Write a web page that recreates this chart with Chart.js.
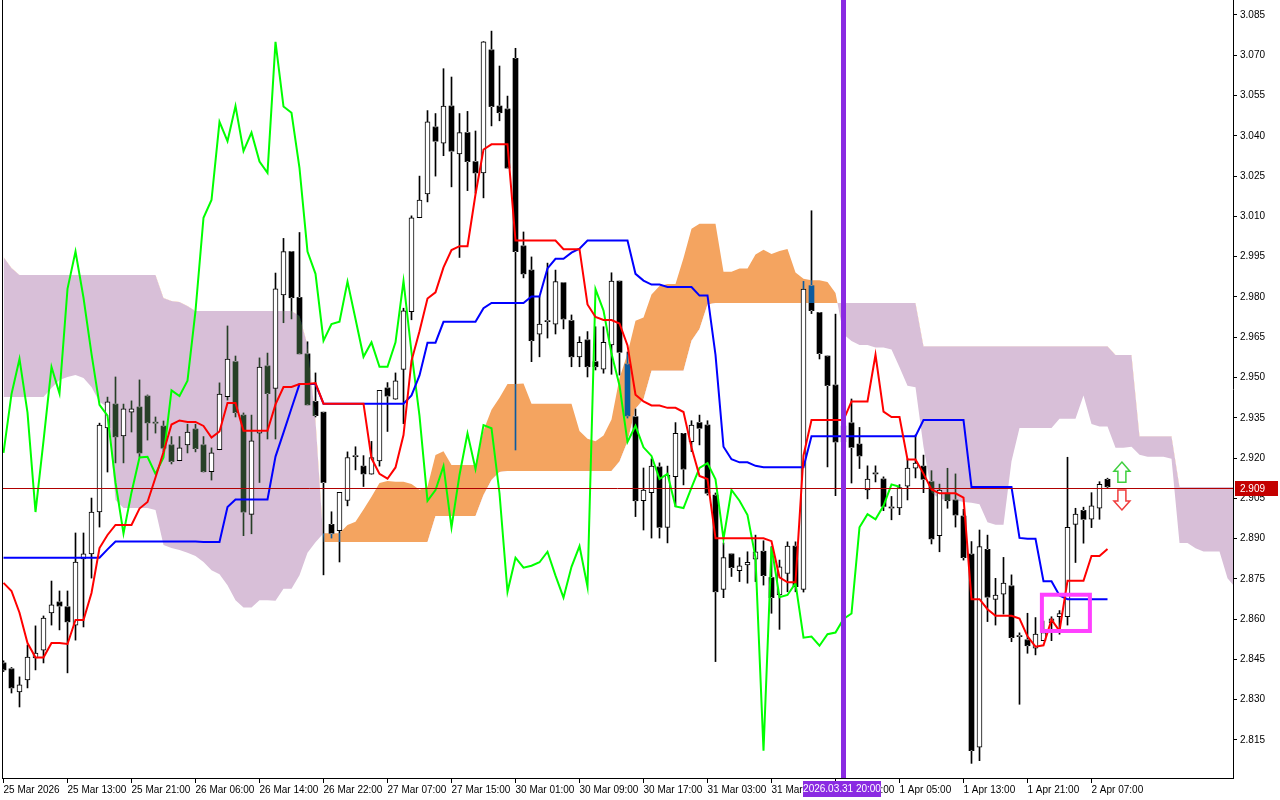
<!DOCTYPE html>
<html>
<head>
<meta charset="utf-8">
<script src="https://cdn.jsdelivr.net/npm/chart.js@4.4.1/dist/chart.umd.min.js"></script>
<style>
  html, body { margin: 0; padding: 0; background: #fff; }
  #wrap { width: 1280px; height: 800px; }
</style>
</head>
<body>
<div id="wrap"><canvas id="myChart"></canvas></div>
<script>
// hourly candles, oldest first
const opens = [2.8437,2.8415,2.8329,2.8374,2.8456,2.8485,2.8623,2.8664,2.8646,2.8578,
  2.8824,2.8843,2.8999,2.9312,2.9401,2.9282,2.9371,2.9390,2.9431,2.9330,
  2.9319,2.9249,2.9190,2.9249,2.9308,2.9249,2.9149,2.9231,2.9429,2.9559,
  2.9360,2.8990,2.9293,2.9543,2.9459,2.9808,2.9969,2.9798,2.9588,2.9411,
  2.9371,2.8953,2.8930,2.9042,2.9205,2.9170,2.9140,2.9189,2.9461,2.9419,
  2.9530,2.9745,3.0095,3.0184,3.0433,3.0373,3.0511,3.0333,3.0412,3.0304,
  3.0262,3.0720,3.0511,3.0500,3.0689,2.9990,2.9900,2.9661,2.9708,2.9699,
  2.9853,2.9712,2.9577,2.9640,2.9559,2.9531,2.9621,2.9859,2.9550,2.9354,
  2.9041,2.9071,2.9167,2.8942,2.9131,2.9292,2.9261,2.9332,2.9323,2.9062,
  2.8711,2.8843,2.8781,2.8802,2.8823,2.8853,2.8755,2.8690,2.8770,2.8872,
  2.8711,2.9842,2.9742,2.9580,2.9472,2.9260,2.9331,2.9252,2.9081,2.9141,
  2.9122,2.9014,2.9014,2.9095,2.9162,2.9170,2.9112,2.8911,2.9069,2.9044,
  2.8984,2.8842,2.8123,2.8860,2.8674,2.8693,2.8724,2.8535,2.8523,2.8492,
  2.8520,2.8587,2.8609,2.8609,2.8953,2.9005,2.8972,2.9013,2.9121];
const highs = [2.8445,2.8420,2.8385,2.8504,2.8575,2.8612,2.8742,2.8705,2.8705,2.8921,
  2.8921,2.9051,2.9330,2.9427,2.9502,2.9401,2.9413,2.9491,2.9435,2.9353,
  2.9338,2.9280,2.9280,2.9326,2.9326,2.9280,2.9238,2.9480,2.9692,2.9580,
  2.9368,2.9360,2.9573,2.9591,2.9889,3.0018,2.9969,3.0040,2.9633,2.9517,
  2.9371,2.9000,2.9072,2.9223,2.9242,2.9209,2.9262,2.9452,2.9481,2.9517,
  2.9758,3.0102,3.0250,3.0494,3.0483,3.0650,3.0619,3.0483,3.0491,3.0418,
  3.0751,3.0790,3.0660,3.0548,3.0726,3.0042,2.9949,2.9801,2.9926,2.9900,
  2.9853,2.9733,2.9652,2.9671,2.9689,2.9689,2.9890,2.9859,2.9595,2.9383,
  2.9163,2.9197,2.9182,2.9170,2.9332,2.9292,2.9339,2.9360,2.9339,2.9070,
  2.8884,2.8843,2.8829,2.8851,2.8913,2.8892,2.8870,2.8820,2.8888,2.8888,
  2.9858,3.0121,2.9742,2.9580,2.9736,2.9400,2.9420,2.9314,2.9171,2.9171,
  2.9130,2.9057,2.9101,2.9197,2.9286,2.9211,2.9153,2.9103,2.9162,2.9141,
  2.9009,2.8889,2.8932,2.8913,2.8752,2.8830,2.8765,2.8549,2.8622,2.8606,
  2.8593,2.8609,2.8632,2.9203,2.9013,2.9017,2.9071,2.9112,2.9125];
const lows = [2.8405,2.8325,2.8273,2.8344,2.8411,2.8437,2.8578,2.8560,2.8400,2.8522,
  2.8571,2.8753,2.8943,2.9148,2.9182,2.9182,2.9297,2.9204,2.9267,2.9293,
  2.9223,2.9178,2.9190,2.9219,2.9223,2.9148,2.9118,2.9231,2.9416,2.9353,
  2.8911,2.8918,2.9109,2.9271,2.9271,2.9704,2.9718,2.9588,2.9398,2.9353,
  2.8765,2.8902,2.8813,2.9022,2.9156,2.9094,2.9140,2.9170,2.9299,2.9419,
  2.9328,2.9715,3.0095,3.0154,3.0250,3.0326,3.0210,2.9947,3.0196,3.0187,
  3.0169,3.0437,3.0456,3.0280,2.9230,2.9871,2.9559,2.9577,2.9647,2.9662,
  2.9681,2.9540,2.9540,2.9502,2.9528,2.9516,2.9512,2.9509,2.9349,2.8982,
  2.8932,2.8902,2.8902,2.8884,2.9019,2.9100,2.9224,2.9249,2.9062,2.8442,
  2.8680,2.8759,2.8740,2.8734,2.8740,2.8727,2.8622,2.8562,2.8702,2.8702,
  2.8701,2.9738,2.9569,2.9167,2.9060,2.9180,2.9107,2.9161,2.9048,2.9111,
  2.9004,2.8970,2.8989,2.9044,2.9126,2.9071,2.8880,2.8851,2.9013,2.8943,
  2.8820,2.8063,2.8073,2.8591,2.8578,2.8619,2.8516,2.8283,2.8473,2.8467,
  2.8520,2.8520,2.8544,2.8578,2.8811,2.8883,2.8941,2.8972,2.9090];
const closes = [2.8411,2.8344,2.8355,2.8459,2.8474,2.8604,2.8653,2.8649,2.8590,2.8813,
  2.8843,2.8999,2.9323,2.9409,2.9279,2.9383,2.9383,2.9219,2.9331,2.9330,
  2.9237,2.9187,2.9238,2.9297,2.9235,2.9149,2.9219,2.9438,2.9569,2.9369,
  2.8999,2.9264,2.9539,2.9440,2.9830,2.9969,2.9797,2.9588,2.9398,2.9358,
  2.9109,2.8919,2.9072,2.9202,2.9205,2.9141,2.9202,2.9452,2.9431,2.9488,
  2.9748,3.0095,3.0161,3.0452,3.0380,3.0511,3.0343,3.0412,3.0304,3.0262,
  3.0750,3.0509,3.0486,3.0280,2.9969,2.9886,2.9637,2.9699,2.9708,2.9857,
  2.9718,2.9577,2.9631,2.9540,2.9540,2.9631,2.9859,2.9594,2.9357,2.9041,
  2.9081,2.9170,2.8942,2.9137,2.9292,2.9159,2.9323,2.9311,2.9069,2.8702,
  2.8829,2.8792,2.8799,2.8812,2.8851,2.8762,2.8680,2.8795,2.8872,2.8721,
  2.9829,2.9749,2.9589,2.9470,2.9260,2.9320,2.9240,2.9208,2.9122,2.9141,
  2.9020,2.9014,2.9090,2.9163,2.9181,2.9121,2.8899,2.9081,2.9041,2.8988,
  2.8829,2.8110,2.8870,2.8682,2.8690,2.8734,2.8531,2.8535,2.8501,2.8544,
  2.8550,2.8601,2.8621,2.8942,2.8991,2.8972,2.9022,2.9102,2.9093];

const tenkanHead = [2.8735,2.8705,2.8624,2.8511,2.8457,2.8457,2.8511,2.8511];
const kijunHead = [2.8829,2.8829,2.8829,2.8829,2.8829,2.8829,2.8829,2.8829,2.8829,2.8829,
  2.8829,2.8829,2.8829,2.8860,2.8889,2.8889,2.8889,2.8889,2.8889,2.8889,
  2.8889,2.8889,2.8889,2.8889,2.8889];
const spanAHead = [2.9427,2.9427,2.9427,2.9427,2.9427,2.9427,2.9461,2.9491,2.9502,2.9509,
  2.9498,2.9465,2.9409,2.9390,2.9044,2.9014,2.9014,2.9014,2.9014,2.9007,
  2.8876,2.8865,2.8858,2.8847,2.8835,2.8813];
const spanBHead = [2.9949,2.9908,2.9882,2.9882,2.9882,2.9882,2.9882,2.9882,2.9882,2.9882,
  2.9882,2.9882,2.9882,2.9882,2.9882,2.9882,2.9882,2.9882,2.9882,2.9882,
  2.9796,2.9785,2.9781,2.9766,2.9748,2.9748,2.9748,2.9748,2.9748,2.9748,
  2.9748,2.9748,2.9748,2.9748,2.9748,2.9748,2.9748,2.9729,2.9621,2.9342,
  2.8887,2.8887,2.8887,2.8887,2.8887,2.8887,2.8887,2.8887,2.8887,2.8887,
  2.8887,2.8887,2.8887,2.8887,2.8984,2.8984,2.8984,2.8984,2.8984,2.8984,
  2.9062,2.9118,2.9148,2.9152,2.9152,2.9152,2.9152,2.9152,2.9152,2.9152,
  2.9152,2.9152,2.9152,2.9152,2.9152,2.9152,2.9152];

const timeLabels = ['25 Mar 2026','25 Mar 13:00','25 Mar 21:00','26 Mar 06:00','26 Mar 14:00',
  '26 Mar 22:00','27 Mar 07:00','27 Mar 15:00','30 Mar 01:00','30 Mar 09:00','30 Mar 17:00',
  '31 Mar 03:00','31 Mar 11:00','31 Mar 19:00','1 Apr 05:00','1 Apr 13:00','1 Apr 21:00','2 Apr 07:00'];
const priceTicks = [2.815,2.830,2.845,2.860,2.875,2.890,2.905,2.920,2.935,2.950,
  2.965,2.980,2.995,3.010,3.025,3.040,3.055,3.070,3.085];

// chart objects
const lastPrice = 2.909;
const markerBar = 105;
const markerLabel = '2026.03.31 20:00';
const boxBars = [129.8, 135.8];
const boxPrices = [2.8556, 2.8691];
const arrowBar = 139.8;
const upArrow = [2.9185, 2.9110];
const downArrow = [2.9081, 2.9007];

const shift = 26;
const idx = opens.map((_, i) => i);

function midRange(end, len) {
  let hi = -Infinity, lo = Infinity;
  for (let k = end - len + 1; k <= end; k++) {
    hi = Math.max(hi, highs[k]);
    lo = Math.min(lo, lows[k]);
  }
  return (hi + lo) / 2;
}

const tenkan = idx.map(i => i < tenkanHead.length ? tenkanHead[i] : midRange(i, 9));
const kijun = idx.map(i => i < kijunHead.length ? kijunHead[i] : midRange(i, 26));
const cloudIdx = [];
for (let j = 0; j <= 154; j++) cloudIdx.push(j);
const spanA = cloudIdx.map(j => j < spanAHead.length ? spanAHead[j] : (tenkan[j - shift] + kijun[j - shift]) / 2);
const spanB = cloudIdx.map(j => j < spanBHead.length ? spanBHead[j] : midRange(j - shift, 52));
const chikou = idx.filter(i => i + shift < closes.length).map(i => ({ x: i, y: closes[i + shift] }));

const bullIdx = idx.filter(i => closes[i] > opens[i]);
const bearIdx = idx.filter(i => closes[i] <= opens[i]);

// white canvas so that inverted (difference) candles come out black on white
const background = {
  id: 'background',
  beforeDraw(chart) {
    const ctx = chart.ctx;
    ctx.save();
    ctx.fillStyle = '#fff';
    ctx.fillRect(0, 0, chart.width, chart.height);
    ctx.restore();
  }
};

const blendPlugin = {
  id: 'blend',
  beforeDatasetDraw(chart, args) {
    const ds = chart.data.datasets[args.index];
    if (ds.blend) {
      chart.ctx.save();
      chart.ctx.globalCompositeOperation = ds.blend;
    }
  },
  afterDatasetDraw(chart, args) {
    if (chart.data.datasets[args.index].blend) chart.ctx.restore();
  }
};

function drawArrow(ctx, cx, yTop, yBot, up, color) {
  const h = yBot - yTop, head = h * 0.45;
  ctx.beginPath();
  if (up) {
    ctx.moveTo(cx, yTop);
    ctx.lineTo(cx + 8, yTop + head);
    ctx.lineTo(cx + 4, yTop + head);
    ctx.lineTo(cx + 4, yBot);
    ctx.lineTo(cx - 4, yBot);
    ctx.lineTo(cx - 4, yTop + head);
    ctx.lineTo(cx - 8, yTop + head);
  } else {
    ctx.moveTo(cx, yBot);
    ctx.lineTo(cx + 8, yBot - head);
    ctx.lineTo(cx + 4, yBot - head);
    ctx.lineTo(cx + 4, yTop);
    ctx.lineTo(cx - 4, yTop);
    ctx.lineTo(cx - 4, yBot - head);
    ctx.lineTo(cx - 8, yBot - head);
  }
  ctx.closePath();
  ctx.lineWidth = 1.5;
  ctx.strokeStyle = color;
  ctx.stroke();
}

const overlay = {
  id: 'overlay',
  afterDatasetsDraw(chart) {
    const { ctx, chartArea: a, scales: { x, y } } = chart;
    ctx.save();
    // bid line
    const py = Math.round(y.getPixelForValue(lastPrice)) + 0.5;
    ctx.strokeStyle = '#b00000';
    ctx.lineWidth = 1;
    ctx.beginPath(); ctx.moveTo(a.left, py); ctx.lineTo(a.right, py); ctx.stroke();
    // left frame
    ctx.strokeStyle = '#000';
    ctx.beginPath(); ctx.moveTo(a.left + 0.5, a.top); ctx.lineTo(a.left + 0.5, a.bottom); ctx.stroke();
    // highlighted box
    const bx0 = x.getPixelForValue(boxBars[0]), bx1 = x.getPixelForValue(boxBars[1]);
    const by0 = y.getPixelForValue(boxPrices[1]), by1 = y.getPixelForValue(boxPrices[0]);
    ctx.strokeStyle = '#ff40ff';
    ctx.lineWidth = 4;
    ctx.strokeRect(bx0, by0, bx1 - bx0, by1 - by0);
    // arrows
    const ax = x.getPixelForValue(arrowBar);
    drawArrow(ctx, ax, y.getPixelForValue(upArrow[0]), y.getPixelForValue(upArrow[1]), true, '#3fcf3f');
    drawArrow(ctx, ax, y.getPixelForValue(downArrow[0]), y.getPixelForValue(downArrow[1]), false, '#f03c3c');
    // vertical marker
    const vx = x.getPixelForValue(markerBar);
    ctx.fillStyle = '#8a2be2';
    ctx.fillRect(Math.round(vx) - 3, a.top, 5, a.bottom - a.top);
    ctx.restore();
  },
  afterDraw(chart) {
    const { ctx, chartArea: a, scales: { x, y } } = chart;
    ctx.save();
    ctx.font = '10px "Liberation Sans", Arial, sans-serif';
    ctx.textBaseline = 'middle';
    const py = Math.round(y.getPixelForValue(lastPrice));
    ctx.fillStyle = '#c40000';
    ctx.fillRect(a.right + 2, py - 7, 43, 15);
    ctx.fillStyle = '#fff';
    ctx.textAlign = 'left';
    ctx.fillText(lastPrice.toFixed(3), a.right + 7, py + 1);
    const vx = Math.round(x.getPixelForValue(markerBar));
    ctx.fillStyle = '#8a2be2';
    ctx.fillRect(vx - 41, a.bottom + 3, 78, 16);
    ctx.fillStyle = '#fff';
    ctx.textAlign = 'center';
    ctx.fillText(markerLabel, vx - 2, a.bottom + 11.5);
    ctx.restore();
  }
};

const data = {
  datasets: [
    {
      type: 'line', label: 'Senkou A', order: 10,
      data: cloudIdx.map(j => ({ x: j, y: spanA[j] })),
      borderColor: 'transparent', borderWidth: 0, pointRadius: 0,
      fill: { target: 1, above: '#f4a460', below: '#d8bfd8' }
    },
    {
      type: 'line', label: 'Senkou B', order: 9,
      data: cloudIdx.map(j => ({ x: j, y: spanB[j] })),
      borderColor: 'transparent', borderWidth: 0, pointRadius: 0, fill: false
    },
    {
      label: 'upper wick', order: 7, blend: 'difference', grouped: false,
      data: idx.map(i => ({ x: i, y: [Math.max(opens[i], closes[i]), highs[i]] })),
      backgroundColor: '#fff', barThickness: 1, borderWidth: 0
    },
    {
      label: 'lower wick', order: 7, blend: 'difference', grouped: false,
      data: idx.map(i => ({ x: i, y: [lows[i], Math.min(opens[i], closes[i])] })),
      backgroundColor: '#fff', barThickness: 1, borderWidth: 0
    },
    {
      label: 'bear body', order: 6, blend: 'difference', grouped: false,
      data: bearIdx.map(i => ({ x: i, y: [opens[i], closes[i]] })),
      backgroundColor: '#fff', barThickness: 5, borderWidth: 0, minBarLength: 1
    },
    {
      label: 'bull body', order: 5, grouped: false,
      data: bullIdx.map(i => ({ x: i, y: [opens[i], closes[i]] })),
      backgroundColor: '#fff', borderColor: '#000', borderWidth: 1, borderSkipped: false,
      barThickness: 5, minBarLength: 1
    },
    {
      type: 'line', label: 'Chikou', order: 3, data: chikou,
      borderColor: '#00ff00', borderWidth: 2, pointRadius: 0, fill: false
    },
    {
      type: 'line', label: 'Kijun', order: 2,
      data: idx.map(i => ({ x: i, y: kijun[i] })),
      borderColor: '#0000ff', borderWidth: 2, pointRadius: 0, fill: false
    },
    {
      type: 'line', label: 'Tenkan', order: 1,
      data: idx.map(i => ({ x: i, y: tenkan[i] })),
      borderColor: '#ff0000', borderWidth: 2, pointRadius: 0, fill: false
    }
  ]
};

const tickFont = { family: '"Liberation Sans", Arial, sans-serif', size: 10 };

const config = {
  type: 'bar',
  data,
  options: {
    animation: false,
    responsive: true,
    maintainAspectRatio: false,
    events: [],
    layout: { padding: { left: 2, top: 0, right: 0, bottom: 0 } },
    plugins: { legend: { display: false }, tooltip: { enabled: false } },
    scales: {
      x: {
        type: 'linear', min: -0.1875, max: 153.6875, offset: false,
        grid: { display: true, drawOnChartArea: false, drawTicks: true, tickLength: 5, color: '#000', offset: false },
        border: { display: true, color: '#000' },
        ticks: {
          font: tickFont, color: '#000', align: 'start', maxRotation: 0, autoSkip: false, padding: 1,
          callback: (v, i) => timeLabels[i]
        },
        afterBuildTicks: s => { s.ticks = timeLabels.map((_, k) => ({ value: k * 8 })); },
        afterFit: s => { s.height = 22; s.paddingLeft = 0; s.paddingRight = 0; }
      },
      y: {
        position: 'right', min: 2.800848, max: 3.090586,
        grid: { display: true, drawOnChartArea: false, drawTicks: true, tickLength: 4, color: '#000' },
        border: { display: true, color: '#000' },
        ticks: { font: tickFont, color: '#000', padding: 3, callback: v => v.toFixed(3) },
        afterBuildTicks: s => { s.ticks = priceTicks.map(v => ({ value: v })); },
        afterFit: s => { s.width = 47; s.paddingTop = 0; s.paddingBottom = 0; }
      }
    }
  },
  plugins: [background, blendPlugin, overlay]
};

const myChart = new Chart(document.getElementById('myChart'), config);
</script>
</body>
</html>
